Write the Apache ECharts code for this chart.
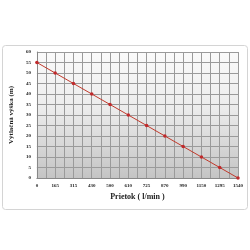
<!DOCTYPE html>
<html>
<head>
<meta charset="utf-8">
<script src="https://cdn.jsdelivr.net/npm/echarts@6/dist/echarts.min.js"></script>
<style>
  html, body { margin: 0; padding: 0; background: #fff; }
  #chart { width: 250px; height: 250px; }
</style>
</head>
<body>
<div id="chart"></div>
<script>
// prietok (l/min) a výtlačná výška (m)
const flowLabels = ['0', '165', '315', '430', '500', '610', '725', '870', '990', '1150', '1295', '1540'];
const headValues = [55, 50, 45, 40, 35, 30, 25, 20, 15, 10, 5, 0];

const chart = echarts.init(document.getElementById('chart'));

const points = headValues.map((v, i) => [i, v]);

const option = {
  animation: false,
  graphic: [{
    type: 'rect',
    shape: { x: 2.5, y: 45.5, width: 245, height: 164, r: 3 },
    style: { fill: '#fff', stroke: '#d4d4d4', lineWidth: 1 },
    z: -10
  }],
  grid: {
    left: 25,
    right: 12,
    top: 52,
    bottom: 72,
    show: true,
    borderWidth: 0,
    backgroundColor: new echarts.graphic.LinearGradient(0, 0, 0, 1, [
      { offset: 0, color: '#fafafa' },
      { offset: 0.45, color: '#ececec' },
      { offset: 1, color: '#c4c4c4' }
    ])
  },
  xAxis: {
    type: 'value',
    min: 0,
    max: flowLabels.length - 1,
    interval: 1,
    name: 'Prietok ( l/min )',
    nameLocation: 'middle',
    nameGap: 15,
    nameTextStyle: { fontFamily: 'Liberation Serif', fontWeight: 'bold', fontSize: 8, color: '#222' },
    axisLine: { show: true, lineStyle: { color: '#888', width: 1 } },
    axisTick: { show: false },
    axisLabel: {
      fontFamily: 'Liberation Serif', fontWeight: 'bold', fontSize: 5, color: '#222', margin: 5,
      formatter: (v) => flowLabels[v] !== undefined ? flowLabels[v] : ''
    },
    splitLine: { show: true, lineStyle: { color: '#9a9a9a', width: 1 } },
    minorTick: { show: false, splitNumber: 2 },
    minorSplitLine: { show: true, lineStyle: { color: '#9a9a9a', width: 1 } }
  },
  yAxis: {
    type: 'value',
    min: 0,
    max: 60,
    interval: 5,
    name: 'Výtlačná výška (m)',
    nameLocation: 'middle',
    nameGap: 13,
    nameTextStyle: { fontFamily: 'Liberation Serif', fontWeight: 'bold', fontSize: 7, color: '#222' },
    axisLine: { show: true, lineStyle: { color: '#888', width: 1 } },
    axisTick: { show: false },
    axisLabel: { fontFamily: 'Liberation Serif', fontWeight: 'bold', fontSize: 5, color: '#222', margin: 6 },
    splitLine: { show: true, lineStyle: { color: '#9a9a9a', width: 1 } }
  },
  series: [{
    type: 'line',
    data: points,
    symbol: 'circle',
    symbolSize: 3.5,
    lineStyle: { color: '#c0392b', width: 1 },
    itemStyle: { color: '#c0292b' }
  }]
};

chart.setOption(option);
</script>
</body>
</html>
